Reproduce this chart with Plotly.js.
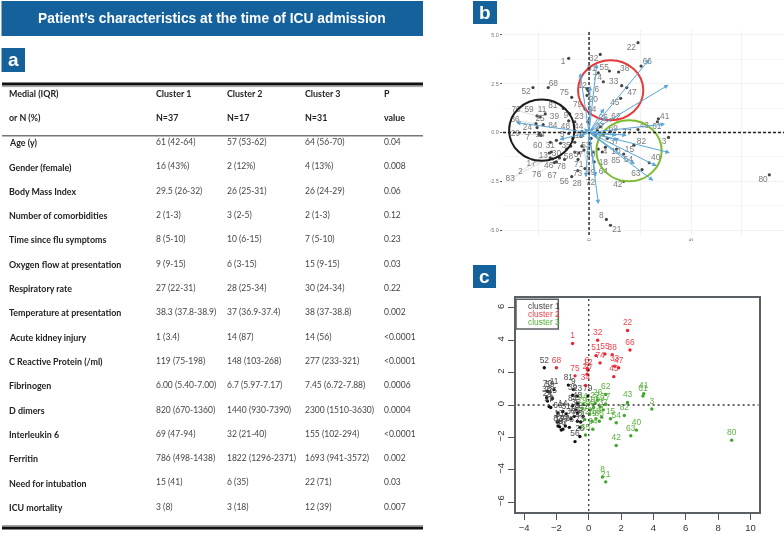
<!DOCTYPE html>
<html>
<head>
<meta charset="utf-8">
<script src="https://cdn.plot.ly/plotly-3.0.1.min.js"></script>
<style>html,body{margin:0;padding:0;background:#fff}#chart{width:784px;height:533px;filter:blur(0.35px)}</style>
</head>
<body>
<div id="chart"></div>
<script>
// ---------- table content ----------
const panelTitle = "Patient\u2019s characteristics at the time of ICU admission";
const headerRow1 = ["Medial (IQR)", "Cluster 1", "Cluster 2", "Cluster 3", "P"];
const headerRow2 = ["or N (%)", "N=37", "N=17", "N=31", "value"];
const rowLabels = ["Age (y)", "Gender (female)", "Body Mass Index", "Number of comorbidities", "Time since flu symptoms", "Oxygen flow at presentation", "Respiratory rate", "Temperature at presentation", "Acute kidney injury", "C Reactive Protein (/ml)", "Fibrinogen", "D dimers", "Interleukin 6", "Ferritin", "Need for intubation", "ICU mortality"];
const cluster1Vals = ["61 (42-64)", "16 (43%)", "29.5 (26-32)", "2 (1-3)", "8 (5-10)", "9 (9-15)", "27 (22-31)", "38.3 (37.8-38.9)", "1 (3.4)", "119 (75-198)", "6.00 (5.40-7.00)", "820 (670-1360)", "69 (47-94)", "786 (498-1438)", "15 (41)", "3 (8)"];
const cluster2Vals = ["57 (53-62)", "2 (12%)", "26 (25-31)", "3 (2-5)", "10 (6-15)", "6 (3-15)", "28 (25-34)", "37 (36.9-37.4)", "14 (87)", "148 (103-268)", "6.7 (5.97-7.17)", "1440 (930-7390)", "32 (21-40)", "1822 (1296-2371)", "6 (35)", "3 (18)"];
const cluster3Vals = ["64 (56-70)", "4 (13%)", "26 (24-29)", "2 (1-3)", "7 (5-10)", "15 (9-15)", "30 (24-34)", "38 (37-38.8)", "14 (56)", "277 (233-321)", "7.45 (6.72-7.88)", "2300 (1510-3630)", "155 (102-294)", "1693 (941-3572)", "22 (71)", "12 (39)"];
const pValues = ["0.04", "0.008", "0.06", "0.12", "0.23", "0.03", "0.22", "0.002", "<0.0001", "<0.0001", "0.0006", "0.0004", "<0.0001", "0.002", "0.03", "0.007"];

// ---------- patients: PCA coordinates ----------
const cluster1Ids = [2,5,7,9,11,13,14,16,17,23,24,25,28,29,30,31,35,36,39,46,48,52,56,57,58,59,60,67,70,71,73,76,78,79,81,83,84];
const cluster1X = [-1.95,-0.7,-2.35,-0.95,-2.15,-1.85,-1.6,-0.9,-1.8,-0.7,-2.55,-2.25,-0.55,-2.45,-1.1,-1.4,-0.8,-2.6,-1.0,-1.7,-0.7,-2.75,-0.85,-0.35,-0.7,-2.4,-1.9,-1.6,-2.55,-0.5,-0.54,-1.45,-1.2,-0.06,-1.26,-1.9,-1.0];
const cluster1Y = [-1.05,-0.5,-0.15,0.95,0.95,-1.0,-0.4,-0.7,-1.35,0.55,0.25,0.4,-1.95,-0.1,-0.85,-0.55,-0.3,0.45,0.6,-1.54,0.1,2.3,-2.26,-0.7,-1.0,0.8,-0.5,-1.5,0.85,-1.05,-1.38,-1.3,-1.38,0.55,1.23,-1.3,-0.05];
const cluster2Ids = [1,6,12,20,22,32,33,34,38,45,47,51,55,66,68,74,75];
const cluster2X = [-1.0,-0.1,-0.05,-0.1,2.4,0.55,1.6,-0.2,1.45,1.55,1.85,0.45,1.0,2.55,-2.0,0.7,-0.85];
const cluster2Y = [3.8,2.25,2.15,1.9,4.6,4.0,2.4,1.2,3.1,1.75,2.3,3.05,3.15,3.4,2.3,2.6,1.8];
const cluster3Ids = [3,4,8,10,15,18,19,21,26,27,37,40,41,42,43,44,49,50,53,54,61,62,63,64,65,69,72,77,80,82,85];
const cluster3X = [3.9,0.8,0.85,0.3,1.35,0.45,-0.4,1.05,0.55,0.4,0.9,2.95,3.4,1.7,2.4,-0.35,0.2,0.1,0.05,1.7,3.35,1.05,2.6,0.25,-0.2,0.7,-0.25,1.05,8.84,2.2,0.65];
const cluster3Y = [-0.25,-0.75,-4.45,-0.15,-0.85,-0.85,-0.2,-4.75,0.3,0.1,-0.3,-1.55,0.7,-2.5,0.15,0.05,-1.0,-0.3,-0.55,-1.1,0.55,0.65,-1.9,-1.5,-1.85,-0.1,-0.9,0.05,-2.17,-0.65,-1.0];

// ---------- biplot loadings (arrow tips) ----------
const loadingX = [2.96,3.9,3.73,3.97,3.32,3.15,2.25,1.85,0.46,0.33,-0.16,-1.45,-3.58,-0.44,0.38,0.05,0.74,-0.25,-0.47,1.44,1.36,0.87];
const loadingY = [3.75,2.44,0.43,-1.04,-1.72,-2.47,-1.62,-0.14,-3.67,-2.27,-2.3,-0.36,0.51,3.05,3.52,2.39,1.23,0.2,-0.22,-0.39,-0.14,0.8];

// ---------- cluster ellipses in panel b: [x0, x1, y0, y1] ----------
const ellipseBlack = [-3.92,-0.72,-1.45,1.69];
const ellipseRed = [-0.54,2.66,0.63,3.70];
const ellipseGreen = [0.36,3.56,-2.5,0.63];

// ---------- label placement in panel b (repelled labels) ----------
const labelPlacementB = {22:[2.07,4.33],32:[0.23,3.79],1:[-1.27,3.62],55:[0.74,3.29],38:[1.75,3.28],51:[0.13,3.24],66:[2.86,3.62],74:[0.41,2.8],12:[-0.33,2.37],6:[0.38,2.17],33:[1.21,2.58],47:[2.11,2.01],68:[-1.75,2.51],52:[-3.09,2.06],75:[-1.21,2.01],20:[0.21,1.66],45:[1.26,1.52],34:[0.13,1.16],79:[-0.56,1.4],23:[-0.49,0.78],26:[0.7,0.77],62:[1.32,0.8],41:[3.71,0.82],61:[3.32,0.27],43:[2.71,0.32],27:[0.54,0.27],69:[1.19,0.19],77:[1.86,0],37:[1.24,-0.48],82:[2.57,-0.48],3:[3.68,-0.46],15:[1.98,-0.9],4:[0.78,-0.99],10:[1.32,-0.99],54:[1.93,-1.4],85:[1.31,-1.45],18:[0.7,-1.54],40:[3.27,-1.3],63:[2.29,-2.13],64:[0.7,-2.03],42:[1.41,-2.71],80:[8.53,-2.44],8:[0.6,-4.28],21:[1.36,-4.98],53:[-0.16,-0.68],50:[0.08,-1.16],49:[0.08,-2.05],72:[0.07,-2.58],59:[-2.94,1.14],70:[-3.58,1.14],11:[-2.3,1.14],81:[-1.78,1.35],39:[-1.7,0.8],9:[-1.14,0.85],25:[-2.4,0.67],36:[-3.63,0.63],24:[-3.02,0.22],84:[-1.78,0.32],48:[-1.16,0.29],44:[-0.51,0.29],29:[-3.61,-0.09],7:[-3.02,-0.26],14:[-2.4,-0.15],5:[-1.31,-0.14],19:[-0.47,-0.19],60:[-2.52,-0.68],31:[-1.9,-0.67],35:[-1.13,-0.67],13:[-2.24,-1.18],30:[-1.6,-1.11],58:[-1.01,-1.23],57:[-0.52,-1.14],17:[-2.84,-1.6],46:[-1.98,-1.71],78:[-1.36,-1.74],71:[-0.51,-1.66],2:[-3.37,-2.0],83:[-3.87,-2.37],76:[-2.57,-2.18],67:[-1.81,-2.22],56:[-1.21,-2.51],73:[-0.56,-2.12],28:[-0.59,-2.63]};

// ---------- helpers ----------
const W = 784, H = 533;
const px = v => v / W, py = v => 1 - v / H;
const BLUE = "#14619c";
const allIds = cluster1Ids.concat(cluster2Ids, cluster3Ids);
const allX = cluster1X.concat(cluster2X, cluster3X);
const allY = cluster1Y.concat(cluster2Y, cluster3Y);

const annotations = [], shapes = [];
function note(x, y, text, size, color, family, anchor) {
  annotations.push({xref:"paper", yref:"paper", x:px(x), y:py(y), text:text, showarrow:false,
    xanchor:anchor||"left", yanchor:"middle", align:"left", borderpad:0,
    font:{size:size, color:color, family:family}});
}
function rect(x0, y0, x1, y1, fill, line, lw) {
  shapes.push({type:"rect", xref:"paper", yref:"paper", x0:px(x0), x1:px(x1), y0:py(y0), y1:py(y1),
    fillcolor:fill, line:{color:line||fill, width:lw||0}});
}
function hline(y, x0, x1, color, lw) {
  shapes.push({type:"line", xref:"paper", yref:"paper", x0:px(x0), x1:px(x1), y0:py(y), y1:py(y), line:{color:color, width:lw}});
}

// ---------- banner and panel badges ----------
const SANS = "Liberation Sans, Arial, sans-serif";
const TBL = "Lato, Liberation Sans, sans-serif";
rect(1.5, 1, 423, 36, BLUE);
note(212, 18.5, "<b>"+panelTitle+"</b>", 13.8, "#ffffff", SANS, "center");
rect(1.5, 48, 25, 72, BLUE);
note(13, 60, "<b>a</b>", 19, "#ffffff", SANS, "center");
rect(473, 1, 497, 24, BLUE);
note(485, 12.5, "<b>b</b>", 19, "#ffffff", SANS, "center");
rect(473, 265, 496, 288, BLUE);
note(484.5, 276.5, "<b>c</b>", 19, "#ffffff", SANS, "center");

// ---------- table ----------
const colX = [7.5, 154.5, 225.5, 303.5, 383];
hline(84, 2, 423, "#111111", 2.8);
hline(86.6, 2, 423, "#888888", 0.8);
hline(135.7, 2, 423, "#777777", 1.6);
hline(525.5, 2, 423, "#888888", 0.8);
hline(528, 2, 423, "#111111", 2.8);
headerRow1.forEach((t,i)=>note(colX[i], 93, "<b>"+t+"</b>", 8.9, "#222222", TBL));
headerRow2.forEach((t,i)=>note(colX[i], 117.3, "<b>"+t+"</b>", 8.9, "#222222", TBL));
rowLabels.forEach((t,i)=>{
  const y = 142.7 + i * 24.31;
  note(colX[0], y, "<b>"+t+"</b>", 8.9, "#222222", TBL);
  note(colX[1], y-0.6, cluster1Vals[i], 8.5, "#444444", TBL);
  note(colX[2], y-0.6, cluster2Vals[i], 8.5, "#444444", TBL);
  note(colX[3], y-0.6, cluster3Vals[i], 8.5, "#444444", TBL);
  note(colX[4], y-0.6, pValues[i].replace("<","&lt;"), 8.5, "#444444", TBL);
});

// ---------- panel b decorations ----------
[[ellipseBlack,"#1c1c1c"],[ellipseRed,"#e63a3a"],[ellipseGreen,"#7cba2f"]].forEach(([e,c])=>{
  shapes.push({type:"circle", xref:"x", yref:"y", x0:e[0], x1:e[1], y0:e[2], y1:e[3], line:{color:c, width:2}, layer:"above"});
});
shapes.push({type:"line", xref:"x", yref:"y", x0:-4.22, x1:9.56, y0:0, y1:0, line:{color:"#222", width:1.4, dash:"3px,2px"}});
shapes.push({type:"line", xref:"x", yref:"y", x0:0, x1:0, y0:-5.25, y1:5.25, line:{color:"#222", width:1.4, dash:"3px,2px"}});
loadingX.forEach((lx,i)=>{
  annotations.push({xref:"x", yref:"y", axref:"x", ayref:"y", x:lx, y:loadingY[i], ax:0, ay:0, text:"",
    showarrow:true, arrowhead:2, arrowsize:0.9, arrowwidth:1, arrowcolor:"#5aa5d6"});
});

// ---------- panel c decorations ----------
shapes.push({type:"line", xref:"x2", yref:"y2", x0:-4.4, x1:10.5, y0:0, y1:0, line:{color:"#333", width:1.3, dash:"2px,3px"}});
shapes.push({type:"line", xref:"x2", yref:"y2", x0:0, x1:0, y0:-6.55, y1:6.55, line:{color:"#333", width:1.3, dash:"2px,3px"}});
rect(516, 299.3, 558.3, 329, "#ffffff", "#5b6066", 1.5);
note(527, 306, "cluster 1", 8.4, "#444444", SANS);
note(527, 313.8, "cluster 2", 8.4, "#e8404a", SANS);
note(527, 321.8, "cluster 3", 8.4, "#55ad35", SANS);

// ---------- traces ----------
const connX = [], connY = [];
allIds.forEach((id,i)=>{
  const p = labelPlacementB[id];
  if (!p) return;
  const d = Math.hypot(p[0]-allX[i], p[1]-allY[i]);
  if (d > 0.9) { connX.push(allX[i], p[0], null); connY.push(allY[i], p[1], null); }
});
const labelIds = allIds.filter(id => labelPlacementB[id]);
const traces = [
  {type:"scatter", mode:"lines", x:connX, y:connY, xaxis:"x", yaxis:"y", line:{color:"#cfcfcf", width:0.7}, hoverinfo:"skip", showlegend:false},
  {type:"scatter", mode:"markers", x:allX, y:allY, xaxis:"x", yaxis:"y", marker:{size:3.2, color:"#444444"}, hoverinfo:"skip", showlegend:false},
  {type:"scatter", mode:"text", x:labelIds.map(id=>labelPlacementB[id][0]), y:labelIds.map(id=>labelPlacementB[id][1]),
   text:labelIds.map(String), xaxis:"x", yaxis:"y", textfont:{size:8.3, color:"#7a7a7a", family:SANS}, cliponaxis:false, hoverinfo:"skip", showlegend:false}
];
[[cluster1Ids,cluster1X,cluster1Y,"#111111","#4a4a4a"],
 [cluster2Ids,cluster2X,cluster2Y,"#e8252f","#ea4650"],
 [cluster3Ids,cluster3X,cluster3Y,"#3fa62a","#5cb143"]].forEach(([ids,xs,ys,mc,tc])=>{
  traces.push({type:"scatter", mode:"markers+text", x:xs, y:ys, text:ids.map(String), xaxis:"x2", yaxis:"y2",
    textposition:"top center", marker:{size:3.4, color:mc}, textfont:{size:8.4, color:tc, family:SANS}, hoverinfo:"skip", showlegend:false});
});

const layout = {
  width:W, height:H, margin:{l:0,r:0,t:0,b:0}, paper_bgcolor:"#ffffff", plot_bgcolor:"#ffffff", showlegend:false, hovermode:false,
  font:{family:SANS},
  xaxis:{domain:[px(503),1], range:[-4.22,9.56], anchor:"y", tickmode:"array", tickvals:[0,5], ticktext:["0","5"], tickangle:-90,
    tickfont:{size:5.5,color:"#777"}, ticks:"outside", ticklen:0, showline:false, zeroline:false, gridcolor:"#efefef", gridwidth:0.8,
    minor:{tickmode:"array", tickvals:[-2.5,2.5,7.5], showgrid:true, gridcolor:"#efefef", gridwidth:0.8}},
  yaxis:{domain:[py(235),py(30)], range:[-5.25,5.25], anchor:"x", tickmode:"array", tickvals:[-5,-2.5,0,2.5,5], ticktext:["-5.0","-2.5","0.0","2.5","5.0"],
    tickfont:{size:5.5,color:"#777"}, ticks:"outside", ticklen:2, tickcolor:"#555", showline:false, zeroline:false, gridcolor:"#efefef", gridwidth:0.8,
    minor:{tickmode:"array", tickvals:[-3.75,-1.25,1.25,3.75], showgrid:true, gridcolor:"#f4f4f4", gridwidth:0.8}},
  xaxis2:{domain:[px(516),px(759.3)], range:[-4.5,10.55], anchor:"y2", tickmode:"array", tickvals:[-4,-2,0,2,4,6,8,10], ticktext:["\u22124","\u22122","0","2","4","6","8","10"],
    tickfont:{size:9.5,color:"#333"}, ticks:"outside", ticklen:6, tickwidth:1, tickcolor:"#555", showline:true, linecolor:"#5b6066", linewidth:2, mirror:true, showgrid:false, zeroline:false},
  yaxis2:{domain:[py(511.7),py(298.3)], range:[-6.59,6.59], anchor:"x2", tickmode:"array", tickvals:[-6,-4,-2,0,2,4,6], ticktext:["\u22126","\u22124","\u22122","0","2","4","6"], tickangle:-90,
    tickfont:{size:9.5,color:"#333"}, ticks:"outside", ticklen:6, tickwidth:1, tickcolor:"#555", showline:true, linecolor:"#5b6066", linewidth:2, mirror:true, showgrid:false, zeroline:false},
  shapes:shapes, annotations:annotations
};
Plotly.newPlot("chart", traces, layout, {displayModeBar:false, staticPlot:true});
</script>
</body>
</html>
